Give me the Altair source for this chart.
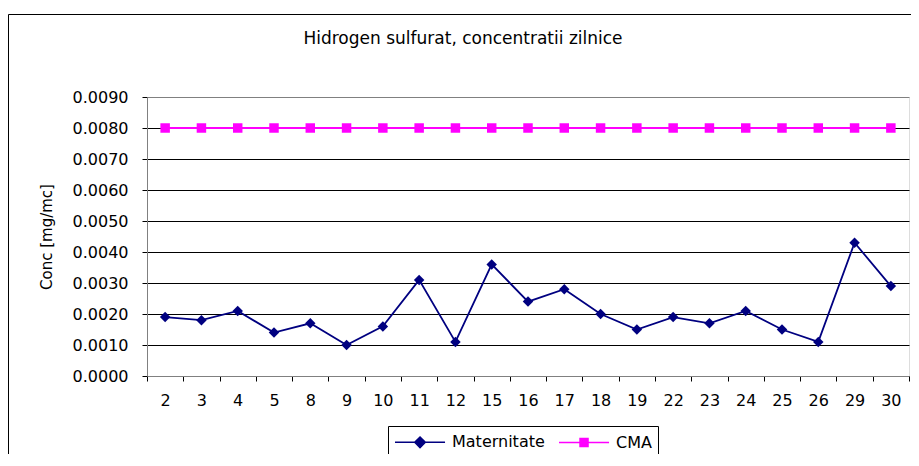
import altair as alt
import pandas as pd

days = ["2", "3", "4", "5", "8", "9", "10", "11", "12", "15", "16",
        "17", "18", "19", "22", "23", "24", "25", "26", "29", "30"]
maternitate = [0.0019, 0.0018, 0.0021, 0.0014, 0.0017, 0.0010, 0.0016, 0.0031,
               0.0011, 0.0036, 0.0024, 0.0028, 0.0020, 0.0015, 0.0019, 0.0017,
               0.0021, 0.0015, 0.0011, 0.0043, 0.0029]
cma = [0.008, 0.008, 0.008, 0.008, 0.008, 0.008, 0.008, 0.008, 0.008, 0.008, 0.008,
       0.008, 0.008, 0.008, 0.008, 0.008, 0.008, 0.008, 0.008, 0.008, 0.008]
series_names = ["Maternitate", "CMA"]
series_colors = ["#000080", "#FF00FF"]
y_ticks = [0.0, 0.001, 0.002, 0.003, 0.004, 0.005, 0.006, 0.007, 0.008, 0.009]
title_text = "Hidrogen sulfurat, concentratii zilnice"
y_title = "Conc [mg/mc]"

# legend symbols: a line segment with the series marker in its middle
legend_paths = [
    "M-1,0H4.56M1.78,-0.58L2.36,0L1.78,0.58L1.2,0Z",
    "M-1,0H4.56M1.34,-0.44H2.22V0.44H1.34Z",
]

FONT = "DejaVu Sans"

df = pd.DataFrame({
    "day": days * 2,
    "value": maternitate + cma,
    "series": ["Maternitate"] * len(days) + ["CMA"] * len(days),
})
legend_df = pd.DataFrame({"series": series_names})

x_enc = alt.X("day:O", sort=days, bandPosition=0.5,
              scale=alt.Scale(type="band", paddingInner=0, paddingOuter=0),
              axis=alt.Axis(tickBand="extent", labelAngle=0, grid=False, title=None,
                            domainColor="#808080", tickColor="#000000", tickSize=5,
                            labelPadding=11, labelFont=FONT, labelFontSize=16,
                            labelColor="#000000"))
y_enc = alt.Y("value:Q",
              scale=alt.Scale(domain=[0, 0.009], nice=False, zero=True),
              axis=alt.Axis(values=y_ticks, format=".4f", grid=True,
                            gridColor={"condition": {"test": "datum.value >= 0.0089", "value": "#808080"},
                                       "value": "#000000"},
                            gridWidth=1, domainColor="#808080", tickColor="#000000",
                            tickSize=5, labelPadding=14, labelFont=FONT,
                            labelFontSize=16, labelColor="#000000",
                            title=y_title, titleFont=FONT, titleFontSize=15,
                            titleFontWeight="normal", titleColor="#000000",
                            titlePadding=18))

leg = alt.Legend(orient="none", legendX=241, legendY=329, direction="horizontal",
                 title=None, strokeColor="#000000", fillColor="#FFFFFF", padding=6,
                 columnPadding=10, labelOffset=38, symbolSize=324,
                 symbolStrokeWidth=1.6, labelFont=FONT, labelFontSize=16,
                 labelColor="#000000")

color_enc = alt.Color("series:N", scale=alt.Scale(domain=series_names, range=series_colors),
                      legend=leg)

base = alt.Chart(df)

frame = alt.Chart(pd.DataFrame({"a": [0]})).mark_rect(
    fillOpacity=0, stroke="#000000", strokeWidth=1, clip=False
).encode(x=alt.value(-138.5), x2=alt.value(1200), y=alt.value(-82.5), y2=alt.value(600))

title_layer = alt.Chart(pd.DataFrame({"t": [title_text]})).mark_text(
    font=FONT, fontSize=17, color="#000000", align="center", baseline="alphabetic"
).encode(text="t:N", x=alt.value(316), y=alt.value(-53))

lines = base.mark_line(strokeWidth=1.8).encode(x=x_enc, y=y_enc, color=color_enc,
                                               detail="series:N")

pts_mat = base.transform_filter(alt.datum.series == "Maternitate").mark_point(
    shape="diamond", filled=True, size=110, opacity=1
).encode(x=x_enc, y=y_enc, color=color_enc)

pts_cma = base.transform_filter(alt.datum.series == "CMA").mark_point(
    shape="square", filled=True, size=90, opacity=1
).encode(x=x_enc, y=y_enc, color=color_enc)

legend_layer = alt.Chart(legend_df).mark_point(size=0, opacity=1).encode(
    shape=alt.Shape("series:N", scale=alt.Scale(domain=series_names, range=legend_paths), legend=leg),
    fill=alt.Fill("series:N", scale=alt.Scale(domain=series_names, range=series_colors), legend=leg),
    stroke=alt.Stroke("series:N", scale=alt.Scale(domain=series_names, range=series_colors), legend=leg),
)

chart = alt.layer(frame, title_layer, lines, pts_mat, pts_cma, legend_layer).properties(
    width=762, height=279,
    autosize=alt.AutoSizeParams(type="none"),
    padding={"left": 139, "top": 89, "right": 2, "bottom": 78},
).configure_view(stroke="#808080", strokeWidth=1).configure(background="#FFFFFF")

chart.save("out.html", embed_options={"renderer": "svg", "actions": False})
